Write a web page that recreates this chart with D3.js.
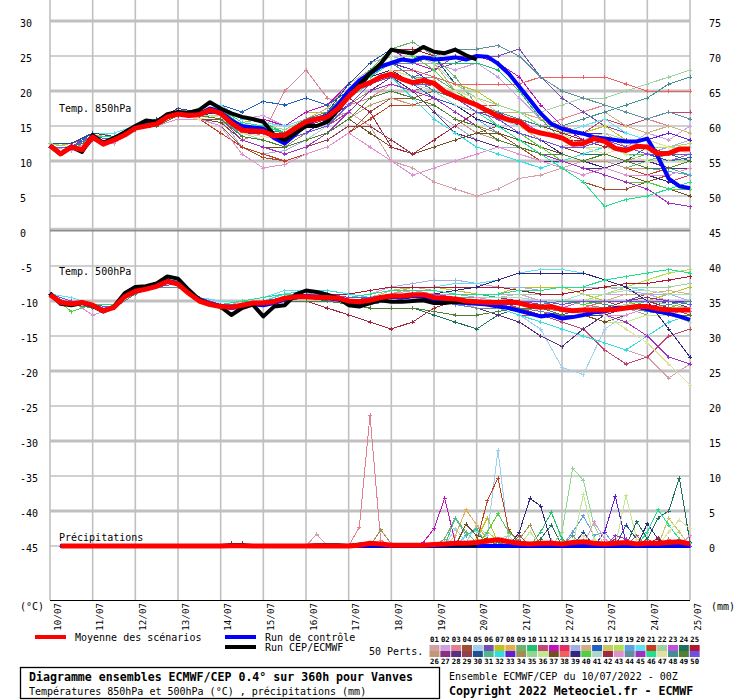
<!DOCTYPE html>
<html><head><meta charset="utf-8">
<script src="https://cdn.jsdelivr.net/npm/d3@7"></script>
<style>body{margin:0;background:#fff}svg{display:block}</style>
</head><body><div id="chart"></div>
<script>
// ---------------- DATA ----------------
const days = ["10/07","11/07","12/07","13/07","14/07","15/07","16/07","17/07","18/07","19/07","20/07","21/07","22/07","23/07","24/07","25/07"];
const leftTicks = [30,25,20,15,10,5,0,-5,-10,-15,-20,-25,-30,-35,-40,-45];
const rightTicks = [75,70,65,60,55,50,45,40,35,30,25,20,15,10,5,0];
const memberColors = ["#d4a0a8","#d0a0e0","#e08090","#a05030","#a0d0f0","#7050b0","#c0c020","#e0b050","#70b070","#20c070","#c04870","#c010c0","#e03060","#a0b0e0","#d0b080","#2060c0","#c8c860","#b0e050","#60a0e0","#60e0f0","#c04020","#a0d0a0","#c050e0","#207060","#b01830",
"#c09878","#8a3080","#583080","#904050","#205090","#50b890","#30e0e0","#6020d0","#a09050","#90d890","#c0e890","#705020","#f06060","#302880","#50d040","#b0d8c8","#a02840","#e090d0","#6090a0","#a030c0","#20e090","#e0e0a0","#409090","#508030","#7050e0"];

// ensemble mean / control / operational run (6-hourly, 850 hPa, °C)
const mean850 = [12.2,11.0,12.0,11.6,13.4,12.4,13.0,13.7,14.7,15.0,15.3,16.3,16.7,16.5,16.6,17.3,16.8,15.4,14.4,14.3,14.2,13.6,13.7,14.7,15.6,16.0,16.3,17.5,19.2,20.6,21.2,22.0,22.4,21.7,21.2,21.5,21.1,19.9,19.2,18.6,18.0,17.2,16.4,15.9,15.6,14.4,14.0,13.7,13.3,12.4,12.5,13.2,12.8,11.8,11.5,12.1,12.0,11.0,11.1,11.7,11.7];
const ctrl850 = [12.2,11.0,12.1,11.5,13.3,12.5,13.1,13.8,14.8,15.2,15.4,16.4,16.8,16.6,16.7,17.5,17.0,15.8,15.0,14.8,14.6,13.3,12.5,13.8,15.2,16.0,16.5,18.0,20.0,21.5,22.5,23.5,24.0,24.5,24.3,24.8,24.5,24.6,24.8,24.5,25.0,24.9,23.9,22.5,20.6,18.7,16.8,15.3,14.6,14.2,13.9,13.4,13.2,13.0,12.8,12.8,13.2,10.6,7.5,6.4,6.1];
const oper850 = [12.2,11.0,12.0,11.3,13.7,12.6,13.3,14.1,15.0,15.8,15.6,16.7,17.0,16.9,17.3,18.4,17.5,16.8,16.3,16.0,15.6,13.7,13.0,14.0,15.0,15.0,15.6,17.3,19.2,20.9,22.5,23.9,25.9,25.6,25.4,26.3,25.6,25.4,25.9,25.1,24.5];
// 500 hPa, °C
const mean500 = [-9.1,-10.2,-10.4,-10.2,-10.6,-11.4,-10.9,-9.4,-8.6,-8.3,-7.9,-7.2,-7.6,-8.9,-10.0,-10.5,-10.8,-10.9,-10.6,-10.3,-10.3,-10.1,-9.6,-9.4,-9.4,-9.5,-9.5,-9.6,-10.0,-10.1,-9.9,-9.5,-9.3,-9.3,-9.1,-9.1,-9.5,-9.6,-9.7,-10.0,-10.1,-10.2,-10.2,-10.1,-10.3,-10.7,-10.9,-10.8,-11.2,-11.4,-11.3,-11.3,-11.3,-11.2,-11.0,-10.8,-10.8,-11.1,-11.3,-11.3,-11.3];
const ctrl500 = [-9.0,-10.3,-10.5,-10.2,-10.6,-11.3,-10.9,-9.3,-8.5,-8.2,-7.8,-7.1,-7.5,-8.8,-9.8,-10.4,-10.7,-11.0,-10.8,-10.5,-10.6,-10.3,-9.8,-9.5,-9.3,-9.5,-9.6,-9.8,-10.2,-10.3,-10.0,-9.6,-9.4,-9.5,-9.3,-9.4,-9.8,-10.0,-10.2,-10.3,-10.4,-10.5,-10.8,-11.0,-11.4,-11.8,-12.2,-12.0,-12.5,-12.3,-12.0,-11.6,-11.5,-11.0,-11.0,-10.8,-11.2,-11.5,-11.8,-12.2,-12.7];
const oper500 = [-8.9,-10.4,-10.6,-10.3,-10.7,-11.5,-10.8,-8.9,-8.0,-7.9,-7.5,-6.5,-6.8,-8.4,-9.8,-10.4,-10.8,-12.0,-11.0,-10.5,-12.2,-10.8,-10.6,-9.1,-8.5,-8.7,-9.1,-9.6,-10.6,-10.8,-10.3,-9.9,-10.1,-10.1,-10.0,-9.9,-10.3,-10.3,-10.1,-10.1,-10.2];
// precipitation, mm per 6 h (from +6 h)
const meanP = [0,0,0,0,0,0,0,0,0,0, 0,0,0,0,0,0,0.05,0.05,0,0, 0,0,0,0,0.05,0,0,0, 0.1,0.4,0.3,0.1,0.1,0.1,0.1,0.2,0.3,0.4, 0.4,0.5,0.7,0.9,0.6,0.4,0.3,0.4,0.4,0.3, 0.5,0.6,0.4,0.3,0.4,0.5,0.3,0.4,0.4,0.5, 0.6,0.3];
const ctrlP = [0,0,0,0,0,0,0,0,0,0, 0,0,0,0,0,0,0,0,0,0, 0,0,0,0,0,0,0,0, 0,0,0,0,0,0,0,0,0,0, 0,0,0,0,0,0,0,0,0,0, 0,0,0,0,0,0,0,0,0,0, 0,0];
const operP = [0,0,0,0,0,0,0,0,0,0, 0,0,0,0,0,0,0.1,0.1,0,0, 0,0,0,0,0.1,0.1,0.1,0, 0.2,0.3,0.2,0.1,0.1,0.1,0.1,0.1,0.1,0.1, 0.1,0.1];

// 50 perturbed members, 12-hourly, 850 hPa
const members850 = [
[12,12,13.5,13,15,15.5,17,16.5,17,14,14,13,15,16,17,15,10,9,7,6,5,6,7.5,8,9,10,11,10,9,9,10],
[12.5,12,14,13.5,15,16,17.5,17,18,16,16.5,15,17,18,21,24,25,24,24,23,24,22,19,16,14,12,13,12,14,13,15],
[12,11.5,13,13,14.5,15,16.5,16,16,13,14,20,23,19,18,19,21,20,21,20,19,17,16,15,16,17,18,17,16,15,14],
[12,12,13,12.5,14.5,15,16,16,15,12,10.5,10,11,12,14,17,19,19,20,18,16,14,12,10,9,7,6,6,7,8,9],
[12.5,12.5,14,13.5,15,15.5,17,17,17.5,15,15,14.5,16,17,21,23,26,25,24,20,18,17,16,14,13,12,12,11,11,10,10.5],
[12,12,13.5,13,15,15.5,17,17,17,15,14,14,16,16.5,19,22,23,22,23,24,25,25,26,22,19,17,15,14,13,12,12],
[12,12.5,13.5,14,15,15,16.5,16.5,17.5,15.5,16,15,17,17,20,22,26,26,25,21,20,18,17,16,14,14,15,13,13,12,13],
[12.5,12,13,13,14.5,15.5,17,17,17,14,14,13.5,15,16,19,21,22,21,21.5,19,18,17,15,13,12,13,14,12,11,10,10],
[12,12,13.5,13,14.5,15,17,16.5,16,14,13,12,14,15,19,23,26,27,25,22,18,15,13,12,11,10,10,9,10,11,12],
[12,11.5,13.5,13,15,15,16.5,16.5,17.5,16,15.5,14,16,17,21,24,26,25,24,24,24,23,20,16,13,12,11,10,10,9,8],
[12.5,12,13,12.5,14.5,15,16.5,16,16,13,12,12,14,15,17,20,21,20,21,19,18,18,17,16,15,14,16,15,16,17,17],
[12,12,14,13.5,15,15.5,17,17,18,16,16,15,17,18,21,24,26,24,23,25,25,24,22,18,15,13,12,12,13,14,13],
[12.5,12.5,13.5,13,15,16,17,17,17,14.5,14.5,14,16,17,20,22,24,23,22,20,18,16,14,12,11,10,9,8,8,7,8],
[12,12,13,13,14.5,15,16.5,16.5,16,12,11,11.5,13,14,17,20,22,20,17,15,13,12,12,11,10,10,9,10,11,12,13],
[12,12,13.5,13.5,15,15.5,17,17,17.5,15,15,14,16,17.5,21,23,26,25,24,20,18,17,17,16,15,16,17,15,14,15,14],
[12.5,12,14,13.5,15,16,17.5,17,18,17,18.5,18,19,18,20,21,22,21,19,18,16,15,14,13,12,12,13,12,11,10,10.5],
[12,12,13,12.5,14.5,15,16.5,16,16.5,14,14,13,15,16,19,22,23,22,21,19,18,16,16,15,14,13,13,12,12,11,11],
[12,12,13.5,13,15,15.5,17,17,17,15,15,14.5,16,17,20,23,26,26,25,21,19,17,16,15,14,13,14,13,12,12,12.5],
[12,11.5,13,13,14.5,15,16.5,16,16.5,13.5,13,12,14,15,18,21,22,21,20,18,16,14,13,12,11,10,10,9,9,8.5,8],
[12.5,12.5,14,14,15,15.5,17,17,18,16,15.5,15,16,17,20,23,24,22,21,19,18,17,16,15,14,15,16,14,13,12,12],
[12,12,13,13,14.5,15,16,16,14,12,11,10,11,12,14,16,18,18,19,17,15,14,13,12,11,10,10,9,8,9,9],
[12,12,13.5,13,15,15.5,17,16.5,17,15,15,14,16,17,20,23,24,22,21,20,19,18,17,17,18,19,19,20,21,22,23],
[12,12,13.5,13.5,15,15.5,17,17,17.5,15,14,13,15,16,19,22,24,23,22,20,18,17,16,14,13,12,13,12,11,10,11],
[12,12,13,13,14.5,15,16.5,16.5,17,14.5,14,14,15,17,20,22,24,22,21,19,17,16,14,13,12,11,11,10,12,11,10],
[12.5,12,13.5,13,15,15.5,17,17,17,15,14.5,14,16,17,20,23,26,26,25,21,19,18,17,15,13,13,13,12,12,11,12],
[12,12,13,12.5,14.5,15,16,16,16,13,12,12,13,14,16,18,19,18,18,16,14,13,12,11,10,10,10,9,9,9,10],
[12,12,13.5,13,15,15.5,17,17,17,15,15,14,16,17,20,22,24,22,21,19,17,16,15,14,14,13,13,12,11,11,12],
[12,12,13,13,14.5,15.5,16.5,16.5,16.5,14,14,13,15,16,18,20,22,20,17,14,13,12,11,10,10,9,9,10,10,9,9],
[12,11.5,13,12.5,14.5,15,16.5,16,16,13,12,11,12,13,15,15,13,11,12,13,14,15,14,13,12,11,12,11,10,10,10],
[12.5,12.5,14,13.5,15,16,17.5,17,17.5,15,15,14,16,17,21,24,26,25,25,21,19,18,17,15,14,13,12,11,11,10,10],
[12,12,13.5,13,15,15.5,17,16.5,17,15,14,14,15,16,19,22,23,22,22,20,18,16,15,14,13,12,12,11,11,11,12],
[12,12,13,13,14.5,15,16.5,16.5,17,14,13.5,13,15,16,19,21,22,19,16,14,12,11,10,9,10,11,12,12,12,11,11],
[12,12,13.5,13.5,15,15.5,17,17,17.5,15,14,13,14,16,19,22,24,23,21,19,18,17,15,14,13,14,14,13,13,14,13],
[12,12,13,13,14.5,15,16.5,16,16.5,14,13,12,14,15,18,20,21,20,19,17,15,14,13,12,11,10,11,10,11,11,11],
[12.5,12,13.5,13,15,15.5,17,17,17,15,15,14.5,16,17,20,23,25,25,24,21,19,18,17,15,14,13,13,12,13,12,12],
[12,12,13.5,13,15,15,16.5,16.5,16.5,14,13.5,13,15,16,19,22,23,21,20,19,18,17,16,15,14,12,12,11,10,10,10],
[12,12,13,13,14.5,15,16,16,15.5,13,12,12,13,14,16,14,12,11,12,13,14,14,13,12,11,10,9,8,7,6,5],
[12,12,13.5,13,15,15.5,17,17,17,15,15,14,16,17,20,22,23,23,22,21,21,21,21,22,22,22,22,21,20,20,20],
[12,12,13,13,14.5,15,16.5,16.5,17,14.5,14,13,15,16,19,22,23,21,20,18,16,15,14,13,11,10,9,8,8,7,6],
[12,12,13.5,13.5,15,15.5,17,17,17.5,15,15,14,16,17,20,23,26,25,23,20,18,16,14,12,10,9,8,7,7,6,6],
[12,12,13,13,14.5,15,16.5,16.5,16.5,14,13,12,13,15,18,21,22,21,20,18,17,16,15,14,14,13,14,13,13,12,12],
[12,12,13.5,13,15,15.5,17,17,17,14.5,14,13.5,15,16,19,17,12,11,13,15,17,17,16,15,14,13,12,13,12,11,11],
[12,11.5,13,12.5,14.5,15,16,16,15,11,9,9.5,11,12,14,12,10,8,9,10,11,12,11,10,9,8,9,8,8,8,9],
[12,12,13.5,13,15,15.5,17,17,17,15,14.5,14,16,17,20,22,24,24,25,26,26,26.5,25,22,20,19,18,17,16,17,16],
[12,12,13,13,14.5,15,16.5,16.5,16,13,12,11,12,14,17,20,21,20,19,17,15,13,12,11,10,9,8,7,6,4,3.5],
[12,12,13.5,13.5,15,15.5,17,17,17.5,15.5,15,14,16,17,20,22,24,22,21,19,17,15,13,11,9,7,3.5,4.5,5,6,7],
[12,12,13,13,14.5,15,16.5,16,16.5,14,13.5,13,14,15,18,21,23,22,21,20,19,17,16,15,13,12,11,12,13,12,11],
[12,12,13.5,13,15,15.5,17,17,17,15,14.5,14,16,17,20,23,24,22,20,19,18,17,16,15,15,16,17,18,19,21,22],
[12,12,13,13,14.5,15,16.5,16.5,16,13.5,13,12,13,14,16,19,20,19,18,16,15,13,12,11,11,10,11,10,9,9,10],
[12,12,13.5,13,15,15.5,17,17,17,15,14,13,14,15,18,21,22,21,21,19,17,16,14,13,12,12,13,12,11,11,11]
];
// 50 perturbed members, 12-hourly, 500 hPa
const members500 = [
[-9,-10.5,-10.5,-11,-8.5,-8,-7.5,-10,-11,-10,-10,-9,-9,-9,-10,-10,-9,-9,-10,-10,-11,-11,-12,-13,-14,-15,-16,-17,-18,-21,-19],
[-9,-10,-10.5,-11,-8.5,-7.5,-7,-9.5,-10.5,-10.5,-10,-9.5,-9,-9,-9.5,-9,-8,-8,-8.5,-9,-9,-9,-9,-10,-10,-10,-9,-9,-9,-10,-10],
[-9,-10.5,-11,-11,-9,-8,-8,-10,-11,-11,-10.5,-10,-9.5,-10,-10,-10,-9.5,-9,-10,-10,-10,-11,-11,-11,-12,-12,-11,-11,-10,-11,-12],
[-9,-10,-10.5,-10.5,-8.5,-8,-7.5,-9.5,-10.5,-10,-10,-9,-9,-9.5,-10,-10,-9,-9,-9,-9.5,-10,-10,-11,-12,-12,-11,-11,-10,-10,-11,-11],
[-9,-10.5,-10.5,-11,-8.5,-8,-7.5,-10,-11,-11,-10.5,-10,-9.5,-9.5,-10,-10,-9.5,-9,-10,-10,-10.5,-11,-12,-14,-19.5,-20.5,-14,-12,-11,-11,-11],
[-9,-10,-10.5,-11,-8.5,-8,-7.5,-9.5,-10.5,-10.5,-10,-9.5,-9.5,-9.5,-10,-9.5,-9,-9,-9,-9,-9.5,-10,-10,-10,-11,-11,-10,-10,-9,-9,-10],
[-9,-10.5,-10.5,-11,-8.5,-7.5,-7,-9.5,-10.5,-10.5,-10,-9,-9,-9,-9.5,-9.5,-9,-8,-8,-8.5,-9,-9,-8,-8,-8,-9,-10,-10,-10,-9,-8],
[-9,-10.5,-11,-11,-9,-8,-8,-10,-11,-10.5,-10,-9.5,-9.5,-10,-10.5,-10,-9.5,-9.5,-10,-10,-10,-11,-11,-11,-11,-12,-12,-12,-11,-12,-13],
[-9,-10.5,-10.5,-11,-8.5,-8,-7.5,-10,-11,-11,-10.5,-10,-9.5,-9.5,-10,-10.5,-10,-9.5,-10,-10,-10.5,-10,-10,-11,-11,-11,-10,-10,-11,-12,-11],
[-9,-10,-10.5,-10.5,-8.5,-7.5,-7,-9.5,-10.5,-10,-10,-9,-9,-9,-9.5,-9.5,-9,-8.5,-9,-9,-9,-9.5,-10,-10,-10,-10,-10,-9,-9,-9,-9],
[-9,-10.5,-11,-11,-9,-8,-8,-10,-11,-11,-10.5,-10,-10,-10,-10.5,-10.5,-10,-9.5,-10,-10.5,-11,-11,-12,-12,-13,-14,-17,-19,-18,-15,-14],
[-9,-10,-10.5,-11,-8.5,-8,-7.5,-10,-10.5,-10.5,-10,-9.5,-9,-9,-9.5,-9.5,-9,-9,-9.5,-9.5,-10,-10,-10.5,-11,-11,-11,-11,-10,-10,-11,-11],
[-9,-10.5,-10.5,-11,-8.5,-8,-7.5,-9.5,-10.5,-10.5,-10,-9.5,-9.5,-9.5,-10,-10,-9.5,-9,-9.5,-10,-10,-10.5,-11,-12,-11,-11,-12,-12,-11,-11,-12],
[-9,-9.5,-10.5,-11,-8.5,-8,-7.5,-9.5,-10.5,-10,-9.5,-9,-9,-8.5,-9,-8.5,-8,-7.5,-7,-7,-7.5,-8,-8,-8.5,-8,-8,-8,-8.5,-9,-9,-10],
[-9,-10.5,-10.5,-11,-8.5,-7.5,-7,-9.5,-10.5,-10.5,-10,-9,-9,-9,-9.5,-9.5,-8.5,-8,-8.5,-9,-9.5,-10,-10,-10,-10.5,-10,-10,-9,-9,-8.5,-9],
[-9,-10.5,-11,-11,-9,-8,-7.5,-10,-11,-11,-10.5,-10,-9.5,-9.5,-10,-10,-9.5,-9,-9.5,-10,-10.5,-11,-11,-11,-12,-11,-11,-11,-10,-11,-11],
[-9,-10,-10.5,-10.5,-8.5,-7.5,-7.5,-9.5,-10.5,-10.5,-10,-9.5,-9,-9,-9.5,-9.5,-9,-8.5,-9,-9.5,-10,-10,-10,-10,-11,-11,-10,-10,-11,-11,-10],
[-9,-10.5,-10.5,-11,-8.5,-8,-7.5,-10,-10.5,-10.5,-10,-9.5,-9.5,-9.5,-10,-10,-9.5,-9,-9,-9.5,-10,-10,-10,-10.5,-11,-10,-9,-8,-7,-6,-5.5],
[-9,-10.5,-10.5,-11,-8.5,-8,-7.5,-10,-11,-10.5,-10,-9.5,-9.5,-9.5,-10,-10,-9.5,-9.5,-10,-10,-10,-10.5,-10,-10,-11,-11,-11,-10,-10,-11,-11],
[-9,-9.5,-10.5,-10.5,-8.5,-7.5,-7,-9.5,-10,-10,-9.5,-8.5,-8.5,-8.5,-9,-8.5,-8,-8,-8,-7.5,-7.5,-7,-6,-5.5,-5.5,-6,-7,-8,-8.5,-9,-9],
[-9,-10.5,-11,-11,-9,-8,-8,-10,-11,-11,-10.5,-10,-10,-10,-10.5,-10.5,-10,-9.5,-10,-10.5,-11,-11,-11,-12,-12,-12,-12,-11,-11,-12,-12],
[-9,-10.5,-10.5,-11,-8.5,-8,-7.5,-9.5,-10.5,-10.5,-10,-9.5,-9,-9,-9.5,-9.5,-9,-9,-9,-9,-9.5,-9.5,-9,-9,-9,-8.5,-8,-8,-8,-8,-7.5],
[-9,-10,-10.5,-11,-8.5,-8,-7.5,-10,-10.5,-10.5,-10,-9.5,-9.5,-9.5,-10,-10,-9.5,-9,-9.5,-10,-10,-10,-10.5,-11,-11,-10,-10,-10,-10,-11,-10],
[-9,-10.5,-10.5,-11,-8.5,-8,-7.5,-10,-11,-11,-10.5,-10,-9.5,-10,-10.5,-11,-11,-11,-12,-13,-14,-12,-11,-11,-11,-12,-12,-11,-11,-12,-12],
[-9,-10,-10.5,-10.5,-8.5,-7.5,-7,-9.5,-10.5,-10,-9.5,-9,-9,-9,-9,-8.5,-8,-8,-8,-8,-8,-8,-8.5,-9,-9,-8.5,-8,-7.5,-7.5,-7,-6.5],
[-9,-10.5,-10.5,-11,-8.5,-8,-7.5,-10,-11,-10.5,-10,-9.5,-9.5,-9.5,-10,-10,-9.5,-9.5,-10,-10,-10.5,-10.5,-11,-11,-11,-11.5,-11,-11,-12,-12,-11],
[-9,-10.5,-11,-11,-9,-8,-7.5,-10,-11,-10.5,-10,-9.5,-9,-9,-9.5,-9.5,-9,-8.5,-8.5,-9,-9.5,-9.5,-10,-10,-10,-10,-10,-10,-9.5,-10,-10],
[-9,-10,-10.5,-11,-8.5,-8,-7.5,-10,-10.5,-10.5,-10,-9.5,-9.5,-9.5,-10,-10,-9.5,-9,-10,-10.5,-11,-12,-13,-15,-16.5,-14,-12,-11,-10,-10,-11],
[-9,-10.5,-10.5,-11,-8.5,-8,-7.5,-9.5,-10.5,-10.5,-10,-9.5,-9,-9,-9.5,-9.5,-9,-9,-9,-9.5,-10,-10,-10,-10.5,-10,-10,-10,-11,-11,-10,-10],
[-9,-10.5,-10.5,-11,-8.5,-8,-7.5,-10,-11,-11,-10.5,-10,-10,-10,-10.5,-10.5,-10,-10,-10,-10.5,-11,-11,-11,-11,-11,-12,-12,-12,-11,-12,-12],
[-9,-10,-10.5,-10.5,-8.5,-7.5,-7.5,-9.5,-10.5,-10.5,-10,-9.5,-9,-9,-9.5,-9.5,-9,-8.5,-9,-9.5,-9.5,-10,-10,-10,-10,-10.5,-11,-11,-10,-10,-10],
[-9,-10.5,-10.5,-11,-8.5,-8,-7.5,-10,-10.5,-10.5,-10,-9,-8.5,-8.5,-9,-9.5,-9,-9,-9.5,-10,-10.5,-11,-12,-13,-14,-15,-16,-17,-15,-13,-12],
[-9,-10.5,-11,-11,-9,-8,-8,-10,-11,-10.5,-10,-9.5,-9.5,-9.5,-10,-10,-9.5,-9.5,-9.5,-10,-10,-10.5,-10.5,-11,-11,-11,-11,-11,-11,-10,-10],
[-9,-10,-10.5,-11,-8.5,-8,-7.5,-9.5,-10.5,-10.5,-10,-9.5,-9,-9,-9.5,-9.5,-9,-9,-9,-9.5,-10,-10,-10.5,-11,-11,-11,-10,-10,-10,-10.5,-11],
[-9,-10.5,-10.5,-11,-8.5,-8,-7.5,-10,-11,-11,-10.5,-10,-9.5,-9.5,-10,-10,-9.5,-9,-9.5,-10,-10,-10,-10,-10.5,-11,-11,-11,-10.5,-10,-10.5,-11],
[-9,-10.5,-10.5,-11,-8.5,-8,-7.5,-9.5,-10.5,-10,-9.5,-9,-9,-9,-9.5,-9,-8.5,-8.5,-9,-9,-9.5,-10,-10,-10.5,-11,-12,-13,-13,-12,-12,-13],
[-9,-10,-10.5,-10.5,-8.5,-7.5,-7,-9.5,-10.5,-10.5,-10,-9.5,-9.5,-9.5,-10,-10,-9.5,-9.5,-10,-10,-10,-10,-10.5,-11,-12,-12,-13,-12,-11,-11,-11],
[-9,-10.5,-10.5,-11,-8.5,-8,-7.5,-10,-10.5,-10.5,-10,-9.5,-9.5,-9.5,-10,-10,-9.5,-9,-9,-9.5,-10,-10.5,-11,-11,-11.5,-11,-10,-10,-10,-11,-11.5],
[-9,-10.5,-11,-11,-9,-8,-7.5,-10,-11,-11,-10.5,-10,-9.5,-9.5,-10,-10,-9.5,-9,-9,-8.5,-8,-7,-6,-6,-6,-6,-7,-8,-10,-14,-18],
[-9,-11.5,-10.5,-11,-8.5,-8,-7.5,-9.5,-10.5,-10.5,-10,-9.5,-9,-9,-9.5,-9.5,-9,-9,-9.5,-10,-10,-10,-10,-10,-10,-10.5,-10,-10,-11,-11,-10],
[-9,-10.5,-10.5,-11,-8.5,-8,-7.5,-10,-11,-10.5,-10,-9.5,-9.5,-9.5,-10,-10,-9.5,-9,-9,-9,-9.5,-9.5,-9.5,-10,-10,-9,-9,-8.5,-8.5,-9,-9],
[-9,-10.5,-10.5,-11,-8.5,-8,-7.5,-10,-10.5,-10.5,-10,-10,-10,-11,-12,-13,-14,-13,-11,-10,-10,-10,-10.5,-11,-11,-11,-11,-10,-10,-11,-11],
[-9,-10,-12,-11,-8.5,-7.5,-7.5,-9.5,-10.5,-10.5,-10,-9.5,-9,-9,-9.5,-9.5,-9,-8.5,-9,-9,-9.5,-10,-10,-10.5,-11,-11.5,-12,-12,-11,-11,-11],
[-9,-10.5,-11,-11,-9,-8,-8,-10,-11,-11,-10.5,-10,-10,-10,-10.5,-10.5,-10,-9.5,-10,-10.5,-11,-11,-11,-11.5,-12,-12,-11,-11,-11.5,-12,-12],
[-9,-10.5,-10.5,-11,-8.5,-8,-7.5,-9.5,-10.5,-10.5,-10,-9.5,-9.5,-9.5,-10,-10,-9.5,-9,-9.5,-10,-10,-10,-10,-10.5,-11,-11,-12,-13,-15,-18,-19],
[-9,-10,-10.5,-10.5,-8.5,-7.5,-7,-9.5,-10.5,-10,-9.5,-9,-9,-9,-9.5,-9,-8.5,-8.5,-8.5,-9,-9,-9,-8.5,-8.5,-8,-8,-7,-6.5,-6,-5.5,-6],
[-9,-10.5,-10.5,-11,-8.5,-8,-7.5,-10,-11,-10.5,-10,-9.5,-9.5,-9.5,-10,-10,-9.5,-9.5,-10,-10,-10.5,-11,-11,-11,-11,-11,-12,-14,-16,-19,-22],
[-9,-10.5,-11,-11,-9,-8,-7.5,-10,-11,-11,-10.5,-10,-9.5,-9.5,-10,-10,-9.5,-9,-9.5,-10,-10,-10,-10.5,-10.5,-10,-10,-10.5,-11,-11,-10.5,-10],
[-9,-10.5,-10.5,-11,-8.5,-8,-7.5,-10,-11,-11,-10.5,-10,-10,-10,-10.5,-11,-11,-11,-11.5,-12,-12,-11.5,-11,-11,-12,-12,-11,-11,-11,-12,-12],
[-9,-10,-10.5,-11,-8.5,-8,-7.5,-9.5,-10.5,-10.5,-10,-9.5,-9,-9,-9.5,-9.5,-9,-9,-9,-9.5,-10,-10,-10,-10,-10.5,-10,-10,-10,-10,-10,-10.5]
];
// 50 perturbed members, precipitation mm per 6 h (from +6 h)
const membersP = [
[0,0,0,0,0,0,0,0,0,0, 0,0,0,0,0,0,0,0,0,0, 0,0,0,0,1.7,0,0,0, 0,0,0,0,0,0,0,0,0,0, 0,0,0.3,0,0,0,0,0,0,0, 0,0,0,0.5,0,0,0,0,0,0, 0,0],
[0,0,0,0,0,0,0,0,0,0, 0,0,0,0,0,0,0,0,0,0, 0,0,0,0,0,0,0,0, 0,0,0,0,0,0,0,0,0,0, 0,0,0,0,0,0,0,0,0.8,0, 0,0,0,0,0,0,0,0,0,0, 0,0],
[0,0,0,0,0,0,0,0,0,0, 0,0,0,0,0,0,0,0,0,0, 0,0,0,0,0,0,0,0, 2.7,18.7,0.8,0,0,0,0,0,0,0, 0,0,0,0,0,0,0,0,0,0, 0,0,0,0,0,0,0,0,0,0, 0,0],
[0,0,0,0,0,0,0,0,0,0, 0,0,0,0,0,0,0,0,0,0, 0,0,0,0,0,0,0,0, 0,0,0,0,0,0,0,0,0,0, 0,0,0,0,0,0,0,0,0,0, 0,0,0.6,0,0,0,0,0,0,0, 0,0],
[0,0,0,0,0,0,0,0,0,0, 0,0,0,0,0,0,0,0,0,0, 0,0,0,0,0,0,0,0, 0,0,0,0,0,0,0,0,0,2.5, 0.5,3,1.5,13.7,1,0,0,0,0,0, 0,0,0,0,0,0,0,0,0,0, 0,0],
[0,0,0,0,0,0,0,0,0,0, 0,0,0,0,0,0,0,0,0,0, 0,0,0,0,0,0,0,0, 0,0,0,0,0,0,0,0,0,0, 0,0,0,0,0,0,0,0,0,0, 0,0.5,0,0,0,0,0,0,0,0, 0,0],
[0,0,0,0,0,0,0,0,0,0, 0,0,0,0,0,0,0,0,0,0, 0,0,0,0,0,0,0,0, 0,0,0,0,0,0,0,0,0,0, 0,1,4,0.5,0,0,0,0,0,0, 0,0,0,0,0,0,0,0,0,0, 0,0],
[0,0,0,0,0,0,0,0,0,0, 0,0,0,0,0,0,0,0,0,0, 0,0,0,0,0,0,0,0, 0,0,0,0,0,0,0,0,0,1.5, 5.2,3,1,0,0,0,0,0,0,0, 0,0,0,0,0,0,0,0,0,0, 0,0],
[0,0,0,0,0,0,0,0,0,0, 0,0,0,0,0,0,0,0,0,0, 0,0,0,0,0,0,0,0, 0,0,0,0,0,0,0,0,1,4, 2,0.5,0,0,0,0,0,0,0,0, 0,0,0,0,0,0,0,0,0,0, 0,0],
[0,0,0,0,0,0,0,0,0,0, 0,0,0,0,0,0,0,0,0,0, 0,0,0,0,0,0,0,0, 0,0,0,0,0,0,0,0,0,0, 0,0,0,0,0,0,0,2,4.8,1, 0,0,0,0,0,0,0,0,0,0, 0,0],
[0,0,0,0,0,0,0,0,0,0, 0,0,0,0,0,0,0,0,0,0, 0,0,0,0,0,0,0,0, 0,0,0,0,0,0,0,0,0,0, 0,0,0,0,0,0,0,0,0,0, 0,0,0,0,0,0,1.5,0,0,0, 0,0],
[0,0,0,0,0,0,0,0,0,0, 0,0,0,0,0,0,0,0,0,0, 0,0,0,0,0,0,0,0, 0,0,0,0,0,0,0.5,2.5,6.8,0.5, 0,0,0,0,0,0,0,0,0,0, 0,0,0,0,0,0,0,0,0,0, 0,0],
[0,0,0,0,0,0,0,0,0,0, 0,0,0,0,0,0,0,0,0,0, 0,0,0,0,0,0,0,0, 0,0,0,0,0,0,0,0,0,0, 0,0,0,0,0,0,0,0,0,0, 0,0,0,0,0,0,0,1,0,0, 0,0],
[0,0,0,0,0,0,0,0,0,0, 0,0,0,0,0,0,0,0,0,0, 0,0,0,0,0,0,0,0, 0,0,0,0,0,0,0,0,0,0, 0,0,0,0,0,0,0,0,0,0, 0,1.5,0,0,0,0,0,0,0,0, 0,0],
[0,0,0,0,0,0,0,0,0,0, 0,0,0,0,0,0,0,0,0,0, 0,0,0,0,0,0,0,0, 0,0,0,0,0,0,0,0,0,0, 0,0,0,0,1.5,0,0,0,0,0, 0,0,0,0,0,0,0,0,0,0, 0,0],
[0,0,0,0,0,0,0,0,0,0, 0,0,0,0,0,0,0,0,0,0, 0,0,0,0,0,0,0,0, 0,0,0,0,0,0,0,0,0,0, 0,0,0,0,0,0.8,0,0,0,0, 0,0,0,0,0,0,0,0,0,0, 0,0],
[0,0,0,0,0,0,0,0,0,0, 0,0,0,0,0,0,0,0,0,0, 0,0,0,0,0,0,0,0, 0,0,0,0,0,0,0,0,0,0, 0,0,0,0,0,0,0,0,0,0, 0,0,0,0,0,0,0,0,0,4, 2,0],
[0,0,0,0,0,0,0,0,0,0, 0,0,0,0,0,0,0,0,0,0, 0,0,0,0,0,0,0,0, 0,0,0,0,0,0,0,0,0,0, 0,0,2,0.8,0,0,0,0,0,0, 0,0,0,0,0,0,0,0,0,0, 0,0],
[0,0,0,0,0,0,0,0,0,0, 0,0,0,0,0,0,0,0,0,0, 0,0,0,0,0,0,0,0, 0,0,0,0,0,0,0,0,0,0, 0,0,0,0,0,0,0,0,0,0, 2,4.3,1.5,2,0,0,0,0,0,0, 0,0],
[0,0,0,0,0,0,0,0,0,0, 0,0,0,0,0,0,0,0,0,0, 0,0,0,0,0,0,0,0, 0,0,0,0,0,0,0,0,0,0, 1.5,2.2,0,0,0,0,0,0,0,0, 0,0,0,0,0,0,0,0,0,0, 0,0],
[0,0,0,0,0,0,0,0,0,0, 0,0,0,0,0,0,0,0,0,0, 0,0,0,0,0,0,0,0, 0,0,0,0,0,0,0,0,0,0, 0,0.5,6.5,9.7,2.3,0.5,0,0,0,0, 0,0,0,0,0,0,0,0,0,0, 0,0],
[0,0,0,0,0,0,0,0,0,0, 0,0,0,0,0,0,0,0,0,0, 0,0,0,0,0,0,0,0, 0,0,0,0,0,0,0,0,0,0, 0,0,0,0,0,0,0,0,0,0, 0,0.8,0,0,0,0,0,0,0,0, 0,0],
[0,0,0,0,0,0,0,0,0,0, 0,0,0,0,0,0,0,0,0,0, 0,0,0,0,0,0,0,0, 0,0,0,0,0,0,0,0,0,0, 0,0,0,0,0,0,0,0,0,0, 0,0,0,0,0,0,0,0,0,0, 0,1.5],
[0,0,0,0,0,0,0,0,0,0, 0,0,0,0,0,0,0,0,0,0, 0,0,0,0,0,0,0,0, 0,0,0,0,0,0,0,0,0,0, 0,0,0,0,0,0,0,1,3,0, 0,0,0,0,0,0,3.5,1,4,5, 9.7,0.5],
[0,0,0,0,0,0,0,0,0,0, 0,0,0,0,0,0,0,0,0,0, 0,0,0,0,0,0,0,0, 0,0,0,0,0,0,0,0,0,0, 0,0,0,0,0,0,0,0,0,0, 0,0,0,0,0,0,0,0,0,0.8, 0,0],
[0,0,0,0,0,0,0,0,0,0, 0,0,0,0,0,0,0,0,0,0, 0,0,0,0,0,0,0,0, 0,0,0,0,0,0,0,0,0,0, 0,0,0,0,0,0,0,0,0,0, 0,0,0,0.5,0,0,0,0,0,0, 0,0],
[0,0,0,0,0,0,0,0,0,0, 0,0,0,0,0,0,0,0,0,0, 0,0,0,0,0,0,0,0, 0,0,0,0,0,0,0,0,0,0, 0,0,0,0,0,0,0,0,0,0, 0,0,0,0,1,0,0,0,0,0, 0,0],
[0,0,0,0,0,0,0,0,0,0, 0,0,0,0,0,0,0,0,0,0, 0,0,0,0,0,0,0,0, 0,0,0,0,0,0,0,0,0,0, 0,0,0,0,0,0,0,0,0,0, 0,0,0,0.5,0,0,0,0,0,0, 0,0],
[0,0,0,0,0,0,0,0,0,0, 0,0,0,0,0,0,0,0,0,0, 0,0,0,0,0,0,0,0, 0,0,0,0,0,0,0,0,0,0, 0,0,0,0,0,1.5,0,0,0,0, 0,0,0,0,0,0,0,0,0,0, 0,0],
[0,0,0,0,0,0,0,0,0,0, 0,0,0,0,0,0,0.4,0.4,0,0, 0,0,0,0,0,0,0,0, 0,0,0,0,0,0,0,0,0,0, 0,0,0,0,0,0,0,0,0,0, 0,2,0,0,0,3,1,0,0,0, 0,0],
[0,0,0,0,0,0,0,0,0,0, 0,0,0,0,0,0,0,0,0,0, 0,0,0,0,0,0,0,0, 0,0,0,0,0,0,0,0,0,4, 1.5,2.5,0,0,0,0,0,0,0,0, 0,0,0,0,0,0,0,0,0,0, 0,0],
[0,0,0,0,0,0,0,0,0,0, 0,0,0,0,0,0,0,0,0,0, 0,0,0,0,0,0,0,0, 0,0,0,0,0,0,0,0,0,0, 0,0,0,0,0,0,0,0,0,0, 0,0,0,0,0,0,0,0,0,0, 0,0.3],
[0,0,0,0,0,0,0,0,0,0, 0,0,0,0,0,0,0,0,0,0, 0,0,0,0,0,0,0,0, 0,0,0,0,0,0,0,0,0,0, 0,0,0,0,0,0,0,0,0,0, 0,0,0,2,7.1,0.5,0,0,0,0, 0,0],
[0,0,0,0,0,0,0,0,0,0, 0,0,0,0,0,0,0,0,0,0, 0,0,0,0,0,0,0,0, 0,0,2.3,0.3,0,0,0,0,0,0, 0,0,0,0,0,1,3,0,0,0, 0,0,0,0,0,0,0,0,0,0, 0,0],
[0,0,0,0,0,0,0,0,0,0, 0,0,0,0,0,0,0,0,0,0, 0,0,0,0,0,0,0,0, 0,0,0,0,0,0,0,0,0,0, 0,0,0,0,0,0,0,0,0,2, 11.1,9.4,3,0,0,0,0,0,0,0, 0,0],
[0,0,0,0,0,0,0,0,0,0, 0,0,0,0,0,0,0,0,0,0, 0,0,0,0,0,0,0,0, 0,0,0,0,0,0,0,0,0,0, 0,0,0,0,0,0,2,0,0,0, 0,7.4,1,0,0,7.2,1,0,0,0, 0,0],
[0,0,0,0,0,0,0,0,0,0, 0,0,0,0,0,0,0,0,0,0, 0,0,0,0,0,0,0,0, 0,0,0,0,0,0,0,0,0,0, 3.1,1.5,1,0,0,0,0,0,0,0, 0,0,0,0,0,0,0,0,0,0, 0,0],
[0,0,0,0,0,0,0,0,0,0, 0,0,0,0,0,0,0,0,0,0, 0,0,0,0,0,0,0,0, 0,0,0,0,0,0,0,0,0,0, 0,0,0,0,0,0,0,0.5,0,0, 0,0,0,0,0,0,0,0,0,1, 0,0],
[0,0,0,0,0,0,0,0,0,0, 0,0,0,0,0,0,0,0,0,0, 0,0,0,0,0,0,0,0, 0,0,0,0,0,0,0,0,0,0, 0,0,0,0,0,2,6.8,5.7,0.5,0, 0,0,0,0,0,0,0,3.2,1,0, 0,0],
[0,0,0,0,0,0,0,0,0,0, 0,0,0,0,0,0,0,0,0,0, 0,0,0,0,0,0,0,0, 0,0,0,0,0,0,0,0,0,0, 0,0,2,4.6,2,0.5,0,0,0,0, 0,0,0,0,0,0,0,0,0,0, 0,0],
[0,0,0,0,0,0,0,0,0,0, 0,0,0,0,0,0,0,0,0,0, 0,0,0,0,0,0,0,0, 0,0,0,0,0,0,0,0,0,0, 0,0,0,1,1.5,0,0,0,0,0, 0,0,0,0,0,0,0,0,0,0, 0,0],
[0,0,0,0,0,0,0,0,0,0, 0,0,0,0,0,0,0,0,0,0, 0,0,0,0,0,0,0,0, 0,0,0,0,0,0,0,0,0,0, 0,0,0,0,0,0,0,0,0,0, 0,0,0,0,0,0,0,0,1.2,0, 0,0],
[0,0,0,0,0,0,0,0,0,0, 0,0,0,0,0,0,0,0,0,0, 0,0,0,0,0,0,0,0, 0,0,0,0,0,0,0,0,0,0, 0,0,0,0,0,0,0,0,0,0, 0,0,3.5,1,0,0,0,0,0,0, 0,1.5],
[0,0,0,0,0,0,0,0,0,0, 0,0,0,0,0,0,0,0,0,0, 0,0,0,0,0,0,0,0, 0,0,0,0,0,0,0,0,0,0, 0,0,0,0,0,0,0,0,0,0, 1.5,0,0,0,0,0,0,0,0,0, 0,0],
[0,0,0,0,0,0,0,0,0,0, 0,0,0,0,0,0,0,0,0,0, 0,0,0,0,0,0,0,0, 0,0,0,0,0,0,0,0,0,0, 0,0,0,0,0,0,0,0,0,0, 0,0,0,0,1.5,1,0,0,0,0, 0,0],
[0,0,0,0,0,0,0,0,0,0, 0,0,0,0,0,0,0,0,0,0, 0,0,0,0,0,0,0,0, 0,0,0,0,0,0,0,0,0,0, 0,0,0,0,0,0,0,0,0,0, 0,0,0,0,0,0,0,2,5.2,3, 1,0],
[0,0,0,0,0,0,0,0,0,0, 0,0,0,0,0,0,0,0,0,0, 0,0,0,0,0,0,0,0, 0,0,0,0,0,0,0,0,0,0, 0,0,0,0,0,0,0,0,0,0, 0,1.5,0,0,0,0,0,0,0,2, 3.7,2.5],
[0,0,0,0,0,0,0,0,0,0, 0,0,0,0,0,0,0,0,0,0, 0,0,0,0,0,0,0,0, 0,0,0,0,0,0,0,0,0,0, 0,0,0,0.5,0,0,0,0,0,0, 0,0,0,0,0,0,0,0,0,0, 0,0],
[0,0,0,0,0,0,0,0,0,0, 0,0,0,0,0,0,0,0,0,0, 0,0,0,0,0,0,0,0, 0,0,0,0,0,0,0,0,0,0, 0,0,1,0,0,0,0,0,0,0, 0,0,0,0,0,0,0,0,0,0, 0,0],
[0,0,0,0,0,0,0,0,0,0, 0,0,0,0,0,0,0,0,0,0, 0,0,0,0,0,0,0,0, 0,0,0,0,0,0,0,0,0,0, 0,0,0,0,0,0,0,0,0,0, 0,0,0,0,0,0.5,0,0,0,0, 0,0]
];

// ---------------- DRAWING ----------------
const FONT = "'DejaVu Sans Mono', 'Liberation Mono', monospace";
const svg = d3.select("#chart").append("svg").attr("width", 740).attr("height", 700)
  .style("font-family", FONT).attr("fill", "#000");

const x = d3.scaleLinear().domain([0, 360]).range([50, 690]);
const y = d3.scaleLinear().domain([-45, 30]).range([546, 21]);
const yRight = d3.scaleLinear().domain([0, 75]).range([546, 21]);
const yP = p => y(p - 45);   // precipitation drawn with -45 °C as 0 mm

// grid
const grid = svg.append("g");
grid.selectAll("line.v").data(days).join("line")
  .attr("x1", (d, i) => x(i * 24)).attr("x2", (d, i) => x(i * 24))
  .attr("y1", 0).attr("y2", 600).attr("stroke", "#c0c0c0").attr("stroke-width", 1.6);
grid.selectAll("line.h").data(leftTicks.filter(v => v !== 0)).join("line")
  .attr("x1", 50).attr("x2", 690).attr("y1", d => y(d)).attr("y2", d => y(d))
  .attr("stroke", "#c0c0c0").attr("stroke-width", d => d % 10 === 0 ? 3 : 1.6);
grid.append("line").attr("x1", 50).attr("x2", 690).attr("y1", y(0) - 2.5).attr("y2", y(0) - 2.5)
  .attr("stroke", "#c8c8c8").attr("stroke-width", 1.5);
grid.append("line").attr("x1", 50).attr("x2", 690).attr("y1", y(0) - 0.5).attr("y2", y(0) - 0.5)
  .attr("stroke", "#8c8c8c").attr("stroke-width", 2);
svg.append("line").attr("x1", 50).attr("x2", 690).attr("y1", 600.5).attr("y2", 600.5)
  .attr("stroke", "#000").attr("stroke-width", 1);

// axes
svg.append("g").attr("transform", "translate(20,0)")
  .call(d3.axisLeft(y).tickValues(leftTicks).tickSize(0).tickFormat(d => String(d)))
  .call(g => g.select(".domain").remove())
  .call(g => g.selectAll("text").attr("x", 0).attr("dy", "0.55em").attr("text-anchor", "start")
    .attr("font-family", FONT).attr("font-size", 10).attr("fill", "#000"));
svg.append("g").attr("transform", "translate(709,0)")
  .call(d3.axisRight(yRight).tickValues(rightTicks).tickSize(0).tickFormat(d => String(d)))
  .call(g => g.select(".domain").remove())
  .call(g => g.selectAll("text").attr("x", 0).attr("dy", "0.55em").attr("text-anchor", "start")
    .attr("font-family", FONT).attr("font-size", 10).attr("fill", "#000"));
svg.append("g").attr("transform", "translate(0,600)")
  .call(d3.axisBottom(x).tickValues(days.map((d, i) => i * 24)).tickSize(0).tickFormat((d, i) => days[i]))
  .call(g => g.select(".domain").remove())
  .call(g => g.selectAll("text").attr("transform", "rotate(-90)").attr("x", -3).attr("y", 10)
    .attr("dy", null).attr("text-anchor", "end").attr("font-family", FONT).attr("font-size", 9.2).attr("fill", "#000"));

svg.append("text").attr("x", 20).attr("y", 610).attr("font-size", 10).attr("fill", "#000").text("(°C)");
svg.append("text").attr("x", 711).attr("y", 610).attr("font-size", 10).attr("fill", "#000").text("(mm)");

// series helpers
const plot = svg.append("g");
function series(values, t0, step, color, width, toY, markers) {
  const pts = values.map((v, i) => [x(t0 + i * step), toY(v)]);
  const g = plot.append("g");
  g.append("path").attr("d", d3.line()(pts)).attr("fill", "none").attr("stroke", color)
    .attr("stroke-width", width).attr("stroke-linejoin", "round")
    .attr("shape-rendering", markers ? "crispEdges" : null);
  if (markers) {
    g.append("path").attr("fill", "none").attr("stroke", color).attr("stroke-width", 1)
      .attr("shape-rendering", "crispEdges")
      .attr("d", pts.map(p => `M${p[0] - 2},${p[1]}h4M${p[0]},${p[1] - 2}v4`).join(""));
  }
}
// members
members850.forEach((m, i) => series(m, 0, 12, memberColors[i], 1, y, true));
members500.forEach((m, i) => series(m, 0, 12, memberColors[i], 1, y, true));
membersP.forEach((m, i) => series(m, 6, 6, memberColors[i], 1, yP, true));
// control, operational, mean
series(ctrl850, 0, 6, "#0000ff", 4, y, false);
series(ctrl500, 0, 6, "#0000ff", 4, y, false);
series(ctrlP, 6, 6, "#0000ff", 4, yP, false);
series(oper850, 0, 6, "#000000", 4, y, false);
series(oper500, 0, 6, "#000000", 4, y, false);
series(operP, 6, 6, "#000000", 4, yP, false);
series(mean850, 0, 6, "#ff0000", 5, y, false);
series(mean500, 0, 6, "#ff0000", 5, y, false);
series(meanP, 6, 6, "#ff0000", 5, yP, false);

// panel labels
svg.append("text").attr("x", 59).attr("y", 112).attr("font-size", 10).attr("fill", "#000").text("Temp. 850hPa");
svg.append("text").attr("x", 59).attr("y", 275).attr("font-size", 10).attr("fill", "#000").text("Temp. 500hPa");
svg.append("text").attr("x", 59).attr("y", 541).attr("font-size", 10).attr("fill", "#000").text("Précipitations");

// legend
const legendItems = [
  {c: "#ff0000", x: 35, y: 635, label: "Moyenne des scénarios"},
  {c: "#0000ff", x: 225, y: 635, label: "Run de contrôle"},
  {c: "#000000", x: 225, y: 645, label: "Run CEP/ECMWF"}
];
svg.selectAll("rect.leg").data(legendItems).join("rect")
  .attr("x", d => d.x).attr("y", d => d.y).attr("width", 31).attr("height", 4).attr("fill", d => d.c);
svg.selectAll("text.leg").data(legendItems).join("text")
  .attr("x", d => d.x + 40).attr("y", d => d.y + 6).attr("font-size", 10).attr("fill", "#000").text(d => d.label);

svg.append("text").attr("x", 369).attr("y", 655).attr("font-size", 10).attr("fill", "#000").text("50 Perts.");
const sw = svg.append("g");
memberColors.forEach((c, i) => {
  const col = i % 25, row = Math.floor(i / 25);
  const sx = 429.5 + col * 10.84;
  sw.append("rect").attr("x", sx).attr("y", 645 + row * 6).attr("width", 10).attr("height", 6).attr("fill", c);
  sw.append("text").attr("x", sx + 5).attr("y", row === 0 ? 642 : 664).attr("text-anchor", "middle")
    .attr("font-size", 7.3).attr("font-weight", "bold").attr("fill", "#000").text(String(i + 1).padStart(2, "0"));
});

// title block
svg.append("rect").attr("x", 20.5).attr("y", 667.5).attr("width", 419).attr("height", 31)
  .attr("fill", "none").attr("stroke", "#000").attr("stroke-width", 1.3);
svg.append("text").attr("x", 29).attr("y", 681).attr("font-size", 11.6).attr("font-weight", "bold").attr("fill", "#000")
  .text("Diagramme ensembles ECMWF/CEP 0.4° sur 360h pour Vanves");
svg.append("text").attr("x", 29).attr("y", 695).attr("font-size", 10).attr("fill", "#000")
  .text("Températures 850hPa et 500hPa (°C) , précipitations (mm)");
svg.append("text").attr("x", 449).attr("y", 680).attr("font-size", 10).attr("fill", "#000")
  .text("Ensemble ECMWF/CEP du 10/07/2022 - 00Z");
svg.append("text").attr("x", 449).attr("y", 695).attr("font-size", 11.6).attr("font-weight", "bold").attr("fill", "#000")
  .text("Copyright 2022 Meteociel.fr - ECMWF");
</script>
</body></html>
